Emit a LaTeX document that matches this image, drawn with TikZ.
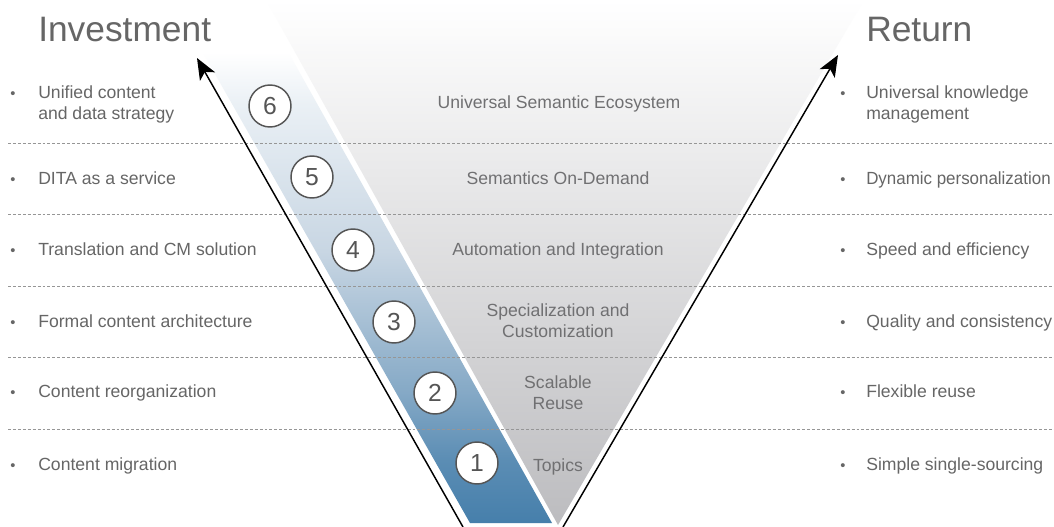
\documentclass[tikz,border=0pt]{standalone}
\usepackage{fontspec}
\setmainfont{Liberation Sans}
\usetikzlibrary{arrows.meta}
\definecolor{txt}{RGB}{102,102,102}
\definecolor{ctxt}{RGB}{112,112,114}
\definecolor{dashc}{RGB}{150,150,150}
\definecolor{circc}{RGB}{85,85,85}
\definecolor{graymid}{RGB}{224,224,226}
\definecolor{graybot}{RGB}{188,188,191}
\definecolor{bA}{RGB}{70,127,171}
\definecolor{bB}{RGB}{91,141,180}
\definecolor{bC}{RGB}{133,169,198}
\definecolor{bD}{RGB}{200,214,227}
\definecolor{bE}{RGB}{234,240,245}
\pgfdeclareverticalshading{bandshade}{100bp}{color(0bp)=(bA); color(25bp)=(bA); color(31bp)=(bB); color(37.5bp)=(bC); color(51bp)=(bD); color(65bp)=(bE); color(70bp)=(white); color(100bp)=(white)}
\begin{document}
\begin{tikzpicture}[x=0.75pt,y=-0.75pt,
  title/.style={anchor=base west, inner sep=0pt, text=txt, font=\fontsize{26.5}{30}\selectfont},
  item/.style={anchor=base west, inner sep=0pt, text=txt, align=left, font=\fontsize{13.2}{15.75}\selectfont},
  bul/.style={anchor=base, inner sep=0pt, text=txt, font=\fontsize{11}{12}\selectfont},
  lvl/.style={anchor=base, inner sep=0pt, text=ctxt, align=center, font=\fontsize{13.2}{15.75}\selectfont},
  num/.style={circle, draw=circc, line width=1.1pt, fill=white, minimum size=31.5pt, inner sep=0pt, text=circc, font=\fontsize{18.5}{20}\selectfont},
  sep/.style={dashc, line width=0.7pt, dash pattern=on 2.2pt off 1.5pt},
  arr/.style={black, line width=1.1pt, -{Stealth[length=16pt, width=13pt, inset=4pt]}}
]
\fill[white] (0,0) rectangle (1054,527);
\useasboundingbox (0,0) rectangle (1054,527);

% gray inverted triangle
\shade[top color=white, middle color=graymid, bottom color=graybot]
  (266,0) -- (864,0) -- (558,525) -- cycle;
% blue band
\shade[shading=bandshade]
  (173,0) -- (259,0) -- (552,523) -- (470,523) -- cycle;

% separators
\foreach \yy in {143,214,286,357,429}
  \draw[sep] (8,\yy) -- (1054,\yy);

% arrows
\coordinate (Lb) at (463,527);
\coordinate (Lt) at (197,58);
\coordinate (Rb) at (563,527);
\coordinate (Rt) at (838,55);
\draw[arr] (Lb) -- (Lt);
\draw[arr] (Rb) -- (Rt);

% circles
\node[num] (c6) at (270,106) {6};
\node[num] (c5) at (312,177) {5};
\node[num] (c4) at (353,250) {4};
\node[num] (c3) at (394,322) {3};
\node[num] (c2) at (435,393) {2};
\node[num] (c1) at (477,463) {1};

% titles
\node[title] (tinv) at (38,42) {Investment};
\node[title] (tret) at (866,42) {Return};

% left column
\node[bul] (lb1) at (13,99) {•};
\node[item] (l1) at (38,120) {Unified content\\and data strategy};
\node[bul] (lb2) at (13,185) {•};
\node[item] (l2) at (38,185) {DITA as a service};
\node[bul] (lb3) at (13,256) {•};
\node[item] (l3) at (38,256) {Translation and CM solution};
\node[bul] (lb4) at (13,328) {•};
\node[item] (l4) at (38,328) {Formal content architecture};
\node[bul] (lb5) at (13,398) {•};
\node[item] (l5) at (38,398) {Content reorganization};
\node[bul] (lb6) at (13,470) {•};
\node[item] (l6) at (38,470) {Content migration};

% right column
\node[bul] (rb1) at (843,99) {•};
\node[item] (r1) at (866,120) {Universal knowledge\\management};
\node[bul] (rb2) at (843,185) {•};
\node[item] (r2) at (866,185) {\scalebox{0.962}[1]{Dynamic personalization}};
\node[bul] (rb3) at (843,256) {•};
\node[item] (r3) at (866,256) {Speed and efficiency};
\node[bul] (rb4) at (843,328) {•};
\node[item] (r4) at (866,328) {Quality and consistency};
\node[bul] (rb5) at (843,398) {•};
\node[item] (r5) at (866,398) {Flexible reuse};
\node[bul] (rb6) at (843,470) {•};
\node[item] (r6) at (866,470) {Simple single-sourcing};

% levels
\node[lvl] (v6) at (559,109) {Universal Semantic Ecosystem};
\node[lvl] (v5) at (558,185) {Semantics On-Demand};
\node[lvl] (v4) at (558,256) {Automation and Integration};
\node[lvl] (v3) at (558,338) {Specialization and\\Customization};
\node[lvl] (v2) at (558,410) {Scalable\\Reuse};
\node[lvl] (v1) at (558,471) {Topics};
\end{tikzpicture}
\end{document}
